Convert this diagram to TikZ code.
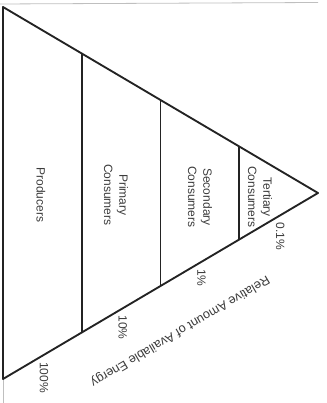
\documentclass[tikz,border=0pt]{standalone}
\usepackage{fontspec}
\setmainfont{Liberation Sans}
\usetikzlibrary{calc}
\definecolor{inkgray}{RGB}{35,35,35}
\definecolor{textgray}{RGB}{60,60,60}
\tikzset{
  pyramid/.style={
    line width=1.4pt,
    line cap=round,
    line join=round,
    draw=inkgray
  },
  divider/.style={pyramid, line width=1.2pt},
  scan-edge/.style={line width=0.6pt, draw=black!25},
  label-base/.style={text=textgray, font=\fontsize{9}{11.5}\selectfont, align=center, inner sep=0pt},
  level-text/.style={label-base, rotate=-90},
  pct-text/.style={label-base, rotate=-90, anchor=west},
  axis-text/.style={label-base, font=\fontsize{9.5}{11.5}\selectfont, rotate=210.6}
}
\newcommand{\pyramidframe}{
  \useasboundingbox (0,0) rectangle (326,403);
}

\begin{document}
\begin{tikzpicture}[x=0.75pt,y=0.75pt]
  \pyramidframe
  % Corners of the pyramid (lying on its side)
  \coordinate (top) at (3,396);
  \coordinate (base) at (3,24);
  \coordinate (tip) at (318,210);
  % Faint edges of the scan
  \draw[scan-edge] (0,399) -- (318,400.5);
  \draw[scan-edge] (base) -- (3,0);
  \draw[pyramid] (top) -- (base) -- (tip) -- cycle;
  % Level dividers
  \foreach \t in {0.25,0.5,0.75}
    \draw[divider] ($(top)!\t!(tip)$) -- ($(base)!\t!(tip)$);
  % Level names
  \node[level-text] (producers) at (41,208) {Producers};
  \node[level-text] (primary) at (116,208) {Primary\\Consumers};
  \node[level-text] (secondary) at (200,206) {Secondary\\Consumers};
  \node[level-text] (tertiary) at (260,206) {Tertiary\\Consumers};
  % Energy percentages
  \foreach \t/\pct [count=\i] in {0.13/100\%, 0.38/10\%, 0.63/1\%, 0.88/0.1\%}
    \node[pct-text] (pct-\i) at ($(base)!\t!(tip)+(0,-7)$) {\pct};
  % Axis title
  \node[axis-text] (energy-axis) at (180,72) {Relative Amount of Available Energy};
\end{tikzpicture}
\end{document}
